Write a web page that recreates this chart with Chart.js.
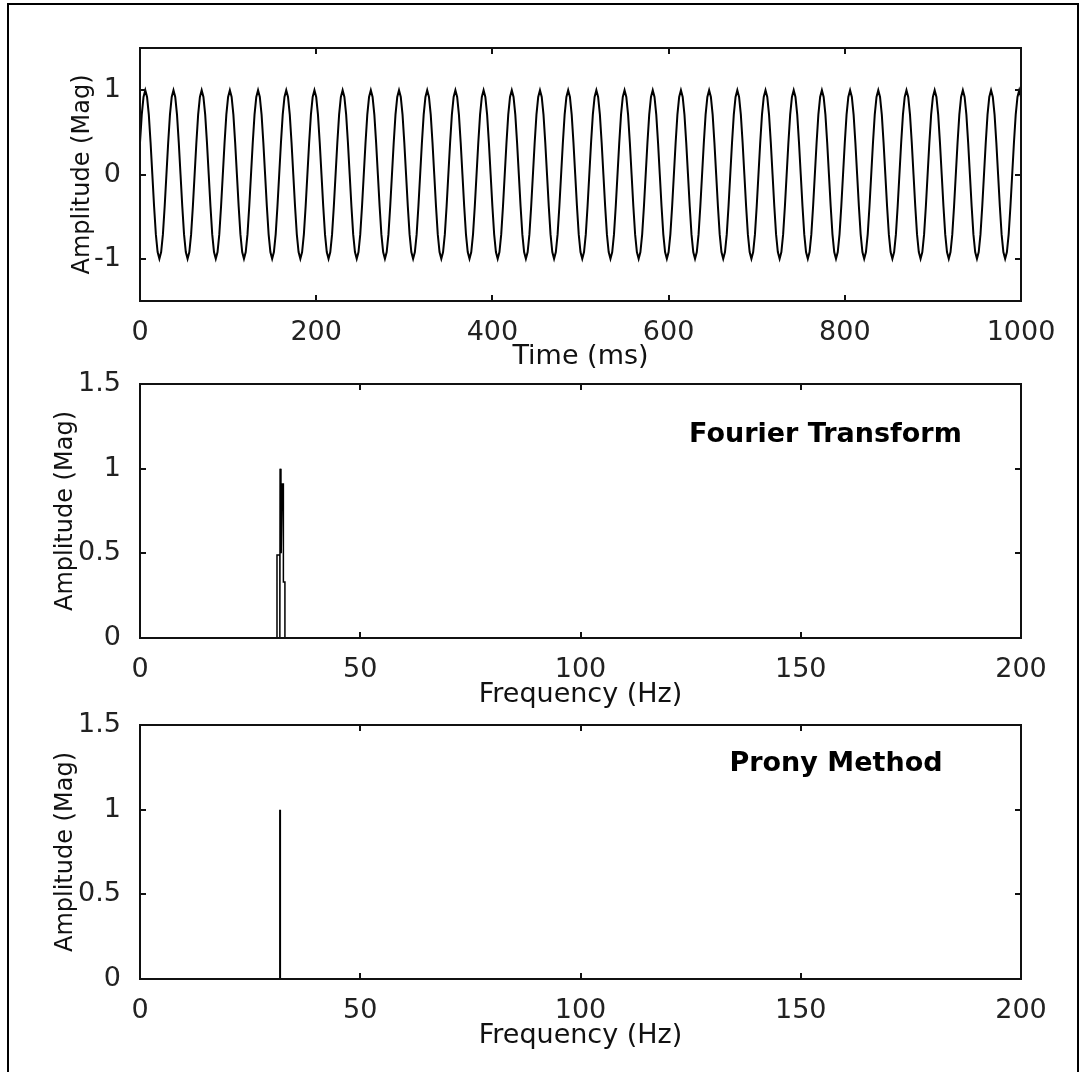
<!DOCTYPE html>
<html>
<head>
<meta charset="utf-8">
<script src="https://cdn.jsdelivr.net/npm/chart.js@4.4.1/dist/chart.umd.min.js"></script>
<style>
    html, body { margin: 0; padding: 0; background: #fff; }
    #page { position: relative; width: 1086px; height: 1072px; overflow: hidden; }
    #page canvas { position: absolute; left: 0; top: 0; }
    #frame {
        position: absolute; left: 7px; top: 3px;
        width: 1072px; height: 1100px;
        border: 2px solid #000; box-sizing: border-box;
    }
</style>
</head>
<body>
<div id="page">
    <div id="frame"></div>
    <canvas id="timeChart" width="1086" height="1072"></canvas>
    <canvas id="fourierChart" width="1086" height="1072"></canvas>
    <canvas id="pronyChart" width="1086" height="1072"></canvas>
</div>
<script>
// ============================================
// Signal + spectra (time, Fourier, Prony)
// ============================================

// Sampled test signal, one sample every 2 ms over 0..1000 ms
const sampleStepMs = 2;
const signalAmp = [
    0.38, 0.71, 0.92, 1, 0.92, 0.71, 0.38, 0, -0.38, -0.71, -0.92, -1, -0.92, -0.71, -0.38, 0,
    0.38, 0.71, 0.92, 1, 0.92, 0.71, 0.38, 0, -0.38, -0.71, -0.92, -1, -0.92, -0.71, -0.38, 0,
    0.38, 0.71, 0.92, 1, 0.92, 0.71, 0.38, 0, -0.38, -0.71, -0.92, -1, -0.92, -0.71, -0.38, 0,
    0.38, 0.71, 0.92, 1, 0.92, 0.71, 0.38, 0, -0.38, -0.71, -0.92, -1, -0.92, -0.71, -0.38, 0,
    0.38, 0.71, 0.92, 1, 0.92, 0.71, 0.38, 0, -0.38, -0.71, -0.92, -1, -0.92, -0.71, -0.38, 0,
    0.38, 0.71, 0.92, 1, 0.92, 0.71, 0.38, 0, -0.38, -0.71, -0.92, -1, -0.92, -0.71, -0.38, 0,
    0.38, 0.71, 0.92, 1, 0.92, 0.71, 0.38, 0, -0.38, -0.71, -0.92, -1, -0.92, -0.71, -0.38, 0,
    0.38, 0.71, 0.92, 1, 0.92, 0.71, 0.38, 0, -0.38, -0.71, -0.92, -1, -0.92, -0.71, -0.38, 0,
    0.38, 0.71, 0.92, 1, 0.92, 0.71, 0.38, 0, -0.38, -0.71, -0.92, -1, -0.92, -0.71, -0.38, 0,
    0.38, 0.71, 0.92, 1, 0.92, 0.71, 0.38, 0, -0.38, -0.71, -0.92, -1, -0.92, -0.71, -0.38, 0,
    0.38, 0.71, 0.92, 1, 0.92, 0.71, 0.38, 0, -0.38, -0.71, -0.92, -1, -0.92, -0.71, -0.38, 0,
    0.38, 0.71, 0.92, 1, 0.92, 0.71, 0.38, 0, -0.38, -0.71, -0.92, -1, -0.92, -0.71, -0.38, 0,
    0.38, 0.71, 0.92, 1, 0.92, 0.71, 0.38, 0, -0.38, -0.71, -0.92, -1, -0.92, -0.71, -0.38, 0,
    0.38, 0.71, 0.92, 1, 0.92, 0.71, 0.38, 0, -0.38, -0.71, -0.92, -1, -0.92, -0.71, -0.38, 0,
    0.38, 0.71, 0.92, 1, 0.92, 0.71, 0.38, 0, -0.38, -0.71, -0.92, -1, -0.92, -0.71, -0.38, 0,
    0.38, 0.71, 0.92, 1, 0.92, 0.71, 0.38, 0, -0.38, -0.71, -0.92, -1, -0.92, -0.71, -0.38, 0,
    0.38, 0.71, 0.92, 1, 0.92, 0.71, 0.38, 0, -0.38, -0.71, -0.92, -1, -0.92, -0.71, -0.38, 0,
    0.38, 0.71, 0.92, 1, 0.92, 0.71, 0.38, 0, -0.38, -0.71, -0.92, -1, -0.92, -0.71, -0.38, 0,
    0.38, 0.71, 0.92, 1, 0.92, 0.71, 0.38, 0, -0.38, -0.71, -0.92, -1, -0.92, -0.71, -0.38, 0,
    0.38, 0.71, 0.92, 1, 0.92, 0.71, 0.38, 0, -0.38, -0.71, -0.92, -1, -0.92, -0.71, -0.38, 0,
    0.38, 0.71, 0.92, 1, 0.92, 0.71, 0.38, 0, -0.38, -0.71, -0.92, -1, -0.92, -0.71, -0.38, 0,
    0.38, 0.71, 0.92, 1, 0.92, 0.71, 0.38, 0, -0.38, -0.71, -0.92, -1, -0.92, -0.71, -0.38, 0,
    0.38, 0.71, 0.92, 1, 0.92, 0.71, 0.38, 0, -0.38, -0.71, -0.92, -1, -0.92, -0.71, -0.38, 0,
    0.38, 0.71, 0.92, 1, 0.92, 0.71, 0.38, 0, -0.38, -0.71, -0.92, -1, -0.92, -0.71, -0.38, 0,
    0.38, 0.71, 0.92, 1, 0.92, 0.71, 0.38, 0, -0.38, -0.71, -0.92, -1, -0.92, -0.71, -0.38, 0,
    0.38, 0.71, 0.92, 1, 0.92, 0.71, 0.38, 0, -0.38, -0.71, -0.92, -1, -0.92, -0.71, -0.38, 0,
    0.38, 0.71, 0.92, 1, 0.92, 0.71, 0.38, 0, -0.38, -0.71, -0.92, -1, -0.92, -0.71, -0.38, 0,
    0.38, 0.71, 0.92, 1, 0.92, 0.71, 0.38, 0, -0.38, -0.71, -0.92, -1, -0.92, -0.71, -0.38, 0,
    0.38, 0.71, 0.92, 1, 0.92, 0.71, 0.38, 0, -0.38, -0.71, -0.92, -1, -0.92, -0.71, -0.38, 0,
    0.38, 0.71, 0.92, 1, 0.92, 0.71, 0.38, 0, -0.38, -0.71, -0.92, -1, -0.92, -0.71, -0.38, 0,
    0.38, 0.71, 0.92, 1, 0.92, 0.71, 0.38, 0, -0.38, -0.71, -0.92, -1, -0.92, -0.71, -0.38, 0,
    0.38, 0.71, 0.92, 1, 0.92
];
const timeTicksY = [-1, 0, 1];

// Fourier magnitude around the ~32 Hz peak (outline as drawn)
const fftFreq = [0, 31.1, 31.1, 31.75, 31.75, 31.8, 32.0, 32.05, 32.3, 32.55, 32.55, 32.9, 32.9, 200];
const fftAmp  = [0, 0,    0.49, 0.49,  0,     1.0,  0.91, 0.5,   0.91, 0.91,  0.33,  0.33, 0,    0];

// Prony estimate: single component
const pronyFreq = [0, 31.8, 31.8, 31.8, 200];
const pronyAmp  = [0, 0,    1.0,  0,    0];

const ampTicks = [0, 0.5, 1, 1.5];

const PAGE_H = 1072;
const FONT = '"DejaVu Sans", sans-serif';

// Box around the plot area with inward tick marks, plus an optional label
const frameBox = {
    id: 'frameBox',
    afterDatasetsDraw(chart, args, opts) {
        const { ctx, chartArea: a, scales: { x, y } } = chart;
        ctx.save();
        ctx.strokeStyle = '#111';
        ctx.lineWidth = 2;
        ctx.strokeRect(a.left, a.top, a.right - a.left, a.bottom - a.top);
        ctx.beginPath();
        x.ticks.forEach(t => {
            const px = Math.round(x.getPixelForValue(t.value));
            ctx.moveTo(px, a.bottom); ctx.lineTo(px, a.bottom - 6);
            ctx.moveTo(px, a.top); ctx.lineTo(px, a.top + 6);
        });
        y.ticks.forEach(t => {
            const py = Math.round(y.getPixelForValue(t.value));
            ctx.moveTo(a.left, py); ctx.lineTo(a.left + 6, py);
            ctx.moveTo(a.right, py); ctx.lineTo(a.right - 6, py);
        });
        ctx.stroke();
        if (opts.note) {
            ctx.font = 'bold 27px ' + FONT;
            ctx.fillStyle = '#000';
            ctx.textAlign = 'center';
            ctx.textBaseline = 'middle';
            ctx.fillText(opts.note.text, x.getPixelForValue(opts.note.x), y.getPixelForValue(opts.note.y));
        }
        ctx.restore();
    }
};

function renderPanel(canvasId, xs, ys, s) {
    const canvas = document.getElementById(canvasId);
    if (!canvas) return null;
    const ctx = canvas.getContext('2d');

    return new Chart(ctx, {
        type: 'line',
        data: {
            datasets: [{
                data: xs.map((v, i) => ({ x: v, y: ys[i] })),
                borderColor: '#000',
                borderWidth: s.lineWidth,
                pointRadius: 0,
                tension: 0,
                fill: false
            }]
        },
        options: {
            responsive: false,
            animation: false,
            events: [],
            layout: { padding: { top: s.plotTop, right: 65, bottom: 0, left: 0 } },
            plugins: {
                legend: { display: false },
                tooltip: { enabled: false },
                frameBox: { note: s.note || null }
            },
            scales: {
                x: {
                    type: 'linear',
                    min: 0,
                    max: s.xMax,
                    grid: { display: false },
                    border: { display: false },
                    ticks: {
                        stepSize: s.xStep,
                        autoSkip: false,
                        maxRotation: 0,
                        padding: 8,
                        color: '#222',
                        font: { family: FONT, size: 27 },
                        callback: v => String(v)
                    },
                    title: {
                        display: true,
                        text: s.xTitle,
                        color: '#111',
                        font: { family: FONT, size: 27 },
                        padding: { top: 0, bottom: PAGE_H - s.xTitleY - 16.2 }
                    },
                    afterFit: scale => { scale.height = PAGE_H - s.plotBottom; }
                },
                y: {
                    type: 'linear',
                    min: s.yMin,
                    max: s.yMax,
                    grid: { display: false },
                    border: { display: false },
                    afterBuildTicks: scale => { scale.ticks = s.yTicks.map(v => ({ value: v })); },
                    ticks: {
                        padding: 11,
                        color: '#222',
                        font: { family: FONT, size: 27 },
                        callback: v => String(v)
                    },
                    title: {
                        display: true,
                        text: 'Amplitude (Mag)',
                        color: '#111',
                        font: { family: FONT, size: 24 },
                        padding: { top: s.yTitleX - 14.4, bottom: 0 }
                    },
                    afterFit: scale => { scale.width = 140; }
                }
            }
        },
        plugins: [frameBox]
    });
}

const timeMs = signalAmp.map((_, i) => i * sampleStepMs);

renderPanel('timeChart', timeMs, signalAmp, {
    plotTop: 48, plotBottom: 301,
    xMax: 1000, xStep: 200, xTitle: 'Time (ms)', xTitleY: 357,
    yMin: -1.5, yMax: 1.5, yTicks: timeTicksY, yTitleX: 83,
    lineWidth: 2
});

renderPanel('fourierChart', fftFreq, fftAmp, {
    plotTop: 384, plotBottom: 638,
    xMax: 200, xStep: 50, xTitle: 'Frequency (Hz)', xTitleY: 695,
    yMin: 0, yMax: 1.5, yTicks: ampTicks, yTitleX: 66,
    lineWidth: 1.5,
    note: { text: 'Fourier Transform', x: 155.6, y: 1.2 }
});

renderPanel('pronyChart', pronyFreq, pronyAmp, {
    plotTop: 725, plotBottom: 979,
    xMax: 200, xStep: 50, xTitle: 'Frequency (Hz)', xTitleY: 1036,
    yMin: 0, yMax: 1.5, yTicks: ampTicks, yTitleX: 66,
    lineWidth: 2,
    note: { text: 'Prony Method', x: 158, y: 1.27 }
});
</script>
</body>
</html>
